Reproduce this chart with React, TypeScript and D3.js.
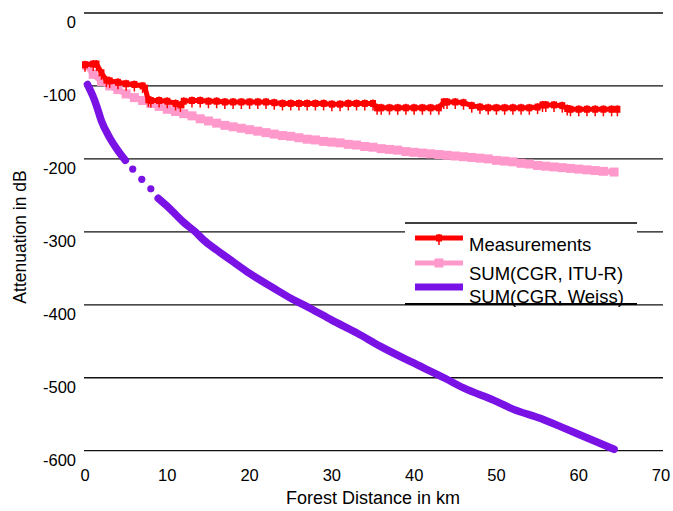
import React from "react";
import * as d3 from "d3";

// values (km, dB)
const measKm = [0, 1, 1.4, 2, 2.6, 3, 4, 5, 6, 7, 7.3, 7.7, 8, 9, 10, 11, 11.6, 12, 13, 14, 15, 16, 17, 18, 19, 20, 21, 22, 23, 24, 25, 26, 27, 28, 29, 30, 31, 32, 33, 34, 35, 35.5, 36, 37, 38, 39, 40, 41, 42, 43, 43.6, 44, 45, 46, 47, 48, 49, 50, 51, 52, 53, 54, 55, 55.6, 56, 57, 58, 58.6, 59, 60, 61, 62, 63, 64, 64.7];
const measDb = [-71, -70, -70, -82, -92, -93, -95, -97, -98, -100, -103, -119, -120, -120, -121, -124, -126, -121, -120, -120, -121, -121, -122, -122, -122, -122, -122, -122, -123, -124, -124, -124, -124, -124, -124, -125, -125, -124, -124, -124, -124, -130, -130, -130, -130, -130, -130, -130, -130, -130, -122, -122, -122, -123, -127, -129, -130, -130, -130, -130, -130, -130, -129, -126, -126, -126, -127, -131, -132, -132, -132, -132, -132, -132, -132];

const ituKm = [0.2, 1, 2, 3, 4, 5, 6, 7, 8, 9, 10, 11, 12, 13, 14, 15, 16, 17, 18, 19, 20, 21, 22, 23, 24, 25, 26, 27, 28, 29, 30, 31, 32, 33, 34, 35, 36, 37, 38, 39, 40, 41, 42, 43, 44, 45, 46, 47, 48, 49, 50, 51, 52, 53, 54, 55, 56, 57, 58, 59, 60, 61, 62, 63, 64.3];
const ituDb = [-72, -84, -94, -100, -105, -111, -116, -120, -124, -128, -132, -135, -138, -141, -145, -148, -151, -154, -156, -158, -160, -162, -164, -166, -168, -169, -171, -173, -174, -176, -177, -178, -180, -181, -183, -184, -186, -187, -188, -190, -191, -192, -193, -194, -195, -196, -197, -198, -199, -200, -202, -203, -204, -206, -207, -209, -210, -211, -212, -213, -214, -215, -216, -217, -218];

const weissKm = [0.3, 1, 1.4, 2, 3, 3.9, 4.9, 5.8, 6.9, 8.0, 8.9, 10, 11, 12, 13.4, 14.4, 16, 18, 20, 22.9, 25, 27.4, 30, 33.1, 35.9, 39.6, 43.8, 46, 49.7, 52, 55.4, 58, 59.9, 62, 64.3];
const weissDb = [-98, -115, -127, -148, -171, -187, -202, -214, -228, -241, -254, -265, -276, -287, -300, -311, -325, -341, -357, -377, -391, -405, -421, -439, -457, -478, -501, -514, -531, -543, -556, -568, -577, -587, -598];
// points drawn only as dots (gap in the line)
const weissGap = [5.8, 6.9, 8.0];

const xTicks = [0, 10, 20, 30, 40, 50, 60, 70];
const yTicks = [0, -100, -200, -300, -400, -500, -600];
const legendNames = ["Measurements", "SUM(CGR, ITU-R)", "SUM(CGR, Weiss)"];

const RED = "#ff0000";
const PINK = "#ff99cc";
const PURPLE = "#7a12e6";
const FONT = "'Liberation Sans', Arial, sans-serif";

export default function App() {
  const x = d3.scaleLinear().domain([0, 70]).range([85, 661]);
  const y = d3.scaleLinear().domain([-600, 0]).range([450.7, 13]);

  const meas = measKm.map((k, i) => [k, measDb[i]]);
  const itu = ituKm.map((k, i) => [k, ituDb[i]]);
  const weiss = weissKm.map((k, i) => [k, weissDb[i]]);

  const line = d3
    .line<number[]>()
    .x(d => x(d[0]))
    .y(d => y(d[1]));

  const weissLine = d3
    .line<number[]>()
    .defined(d => weissGap.indexOf(d[0]) < 0)
    .curve(d3.curveMonotoneX)
    .x(d => x(d[0]))
    .y(d => y(d[1]));

  const lg = { x1: 405, x2: 637, top: 223, bottom: 304 };
  const rows = [238, 263, 287];
  const textY = [251, 280, 303];

  return (
    <svg width={673} height={511} style={{ position: "absolute", left: 0, top: 0, background: "#fff" }} fontFamily={FONT}>
      <rect width={673} height={511} fill="#fff" />
      {yTicks.map(t => (
        <g key={t}>
          <line x1={84} x2={663} y1={y(t)} y2={y(t)} stroke="#111" strokeWidth={1.3} />
          <text x={76} y={y(t) + 15} textAnchor="end" fontSize={16.5}>
            {t}
          </text>
        </g>
      ))}
      {xTicks.map(t => (
        <text key={t} x={x(t)} y={481} textAnchor="middle" fontSize={16.5}>
          {t}
        </text>
      ))}
      <text x={373} y={504} textAnchor="middle" fontSize={18}>
        Forest Distance in km
      </text>
      <text transform="translate(26,237) rotate(-90)" textAnchor="middle" fontSize={17.5}>
        Attenuation in dB
      </text>

      {/* SUM(CGR, Weiss) */}
      <path d={weissLine(weiss) || ""} fill="none" stroke={PURPLE} strokeWidth={7.5} strokeLinecap="round" strokeLinejoin="round" />
      {weiss
        .filter(d => weissGap.indexOf(d[0]) >= 0)
        .map(d => (
          <circle key={d[0]} cx={x(d[0])} cy={y(d[1])} r={3.6} fill={PURPLE} />
        ))}

      {/* SUM(CGR, ITU-R) */}
      <path d={line(itu) || ""} fill="none" stroke={PINK} strokeWidth={6} strokeLinejoin="round" />
      {itu.map(d => (
        <rect key={d[0]} x={x(d[0]) - 4.5} y={y(d[1]) - 4.5} width={9} height={9} fill={PINK} />
      ))}

      {/* Measurements */}
      <path d={line(meas) || ""} fill="none" stroke={RED} strokeWidth={5} strokeLinejoin="round" />
      {meas.map(d => (
        <g key={d[0]}>
          <rect x={x(d[0]) - 3} y={y(d[1]) - 3.5} width={6} height={7} fill={RED} />
          <line x1={x(d[0])} x2={x(d[0])} y1={y(d[1]) - 4} y2={y(d[1]) + 7} stroke={RED} strokeWidth={1.5} />
        </g>
      ))}

      {/* legend */}
      <rect x={lg.x1} y={lg.top} width={lg.x2 - lg.x1} height={lg.bottom - lg.top} fill="#fff" />
      <line x1={lg.x1} x2={lg.x2} y1={lg.top} y2={lg.top} stroke="#000" strokeWidth={1.3} />
      <line x1={415} x2={463} y1={rows[0]} y2={rows[0]} stroke={RED} strokeWidth={5} />
      <rect x={436} y={rows[0] - 3.5} width={6} height={7} fill={RED} />
      <line x1={439} x2={439} y1={rows[0] - 4} y2={rows[0] + 7} stroke={RED} strokeWidth={1.5} />
      <line x1={415} x2={463} y1={rows[1]} y2={rows[1]} stroke={PINK} strokeWidth={5} />
      <rect x={434.5} y={rows[1] - 4.5} width={9} height={9} fill={PINK} />
      <line x1={415} x2={463} y1={rows[2]} y2={rows[2]} stroke={PURPLE} strokeWidth={7} />
      {legendNames.map((n, i) => (
        <text key={n} x={469} y={textY[i]} fontSize={18.5}>
          {n}
        </text>
      ))}
      <line x1={lg.x1} x2={lg.x2} y1={lg.bottom} y2={lg.bottom} stroke="#000" strokeWidth={2.2} />
    </svg>
  );
}
